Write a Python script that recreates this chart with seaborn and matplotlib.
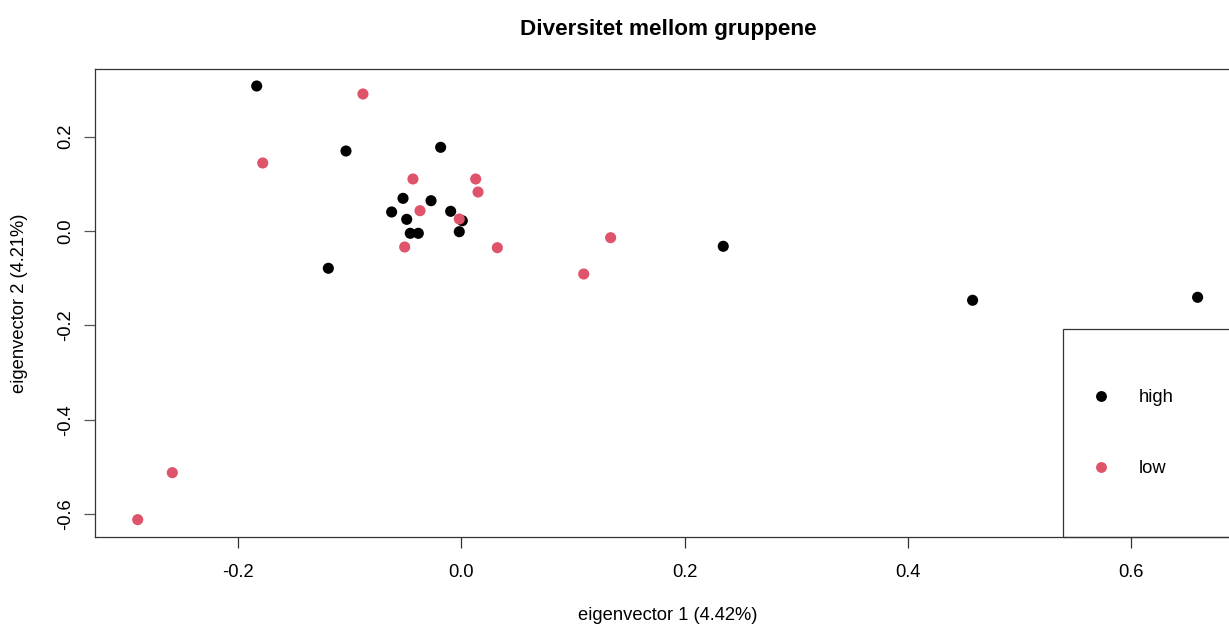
import matplotlib
matplotlib.use("Agg")
import matplotlib.pyplot as plt
from matplotlib.lines import Line2D
from matplotlib.patches import Rectangle
import seaborn as sns
import pandas as pd

# ---- data ----
high_x = [-0.1833, -0.1033, -0.0185, -0.0522, -0.0271, -0.0624, -0.0095, 0.0009,
          -0.0489, -0.0457, -0.0385, -0.0018, -0.1191, 0.2347, 0.4581, 0.6597]
high_y = [0.3072, 0.1695, 0.1773, 0.0692, 0.0642, 0.0403, 0.0417, 0.0218,
          0.0247, -0.0049, -0.0049, -0.0015, -0.0790, -0.0324, -0.1468, -0.1405]
low_x = [-0.0881, -0.1779, -0.0433, 0.0129, 0.0150, -0.0370, -0.0018, -0.0507,
         0.0323, 0.1338, 0.1097, -0.2589, -0.2899]
low_y = [0.2903, 0.1441, 0.1102, 0.1102, 0.0826, 0.0430, 0.0254, -0.0339,
         -0.0354, -0.0142, -0.0911, -0.5121, -0.6116]
groups = ["high", "low"]
colors = ["#000000", "#DF536B"]
title = "Diversitet mellom gruppene"
xlabel = "eigenvector 1 (4.42%)"
ylabel = "eigenvector 2 (4.21%)"
xticks = [-0.2, 0.0, 0.2, 0.4, 0.6]
yticks = [-0.6, -0.4, -0.2, 0.0, 0.2]

df = pd.DataFrame({
    "x": high_x + low_x,
    "y": high_y + low_y,
    "group": [groups[0]] * len(high_x) + [groups[1]] * len(low_x),
})

sns.set_theme(style="white")
plt.rcParams["font.family"] = ["Liberation Sans", "DejaVu Sans"]
plt.rcParams["text.color"] = "black"
plt.rcParams["axes.labelcolor"] = "black"
plt.rcParams["axes.titlecolor"] = "black"

FS = 13.2

fig = plt.figure(figsize=(12.29, 6.24), dpi=100)
ax = fig.add_axes([0.07754, 0.13894, 0.9318, 0.75])

sns.scatterplot(data=df, x="x", y="y", hue="group", palette=dict(zip(groups, colors)),
                s=64, linewidth=0, edgecolor="none", legend=False, ax=ax)

ax.set_xlim(-0.3279, 0.6981)
ax.set_ylim(-0.649, 0.3426)
ax.set_xticks(xticks)
ax.set_xticklabels([f"{v:.1f}" for v in xticks])
ax.set_yticks(yticks)
ax.set_yticklabels([f"{v:.1f}" for v in yticks], rotation=90, va="center")

for sp in ax.spines.values():
    sp.set_visible(True)
    sp.set_color("#333333")
    sp.set_linewidth(0.9)

ax.tick_params(axis="x", direction="out", length=8, width=0.9, color="#333333",
               labelsize=FS, pad=11, labelcolor="black", bottom=True)
ax.tick_params(axis="y", direction="out", length=8, width=0.9, color="#555555",
               labelsize=FS, pad=7, labelcolor="black", left=True)

ax.set_title(title, fontsize=16.2, fontweight="bold", pad=25, color="black")
ax.set_xlabel(xlabel, fontsize=FS)
ax.set_ylabel(ylabel, fontsize=FS)
ax.xaxis.set_label_coords(0.5, -0.1485)
ax.yaxis.set_label_coords(-0.0588, 0.5)

# legend box
bx0 = (1063.3 - 95.3) / 1145.2
bh = (537.3 - 329.3) / 468.0
ax.add_patch(Rectangle((bx0, 0), 1.2, bh, transform=ax.transAxes, fill=False,
                       edgecolor="#333333", linewidth=0.9, clip_on=False, zorder=5))
handles = [Line2D([0], [0], marker="o", linestyle="none", markersize=6.8,
                  markerfacecolor=c, markeredgecolor=c) for c in colors]
ax.legend(handles, groups, loc="center left",
          bbox_to_anchor=(bx0 + 28.5 / 1145.2, bh / 2), frameon=False,
          borderpad=0, handlelength=1.0, handletextpad=1.57, labelspacing=2.95,
          fontsize=FS, borderaxespad=0)

fig.savefig("out.png", dpi=100)
